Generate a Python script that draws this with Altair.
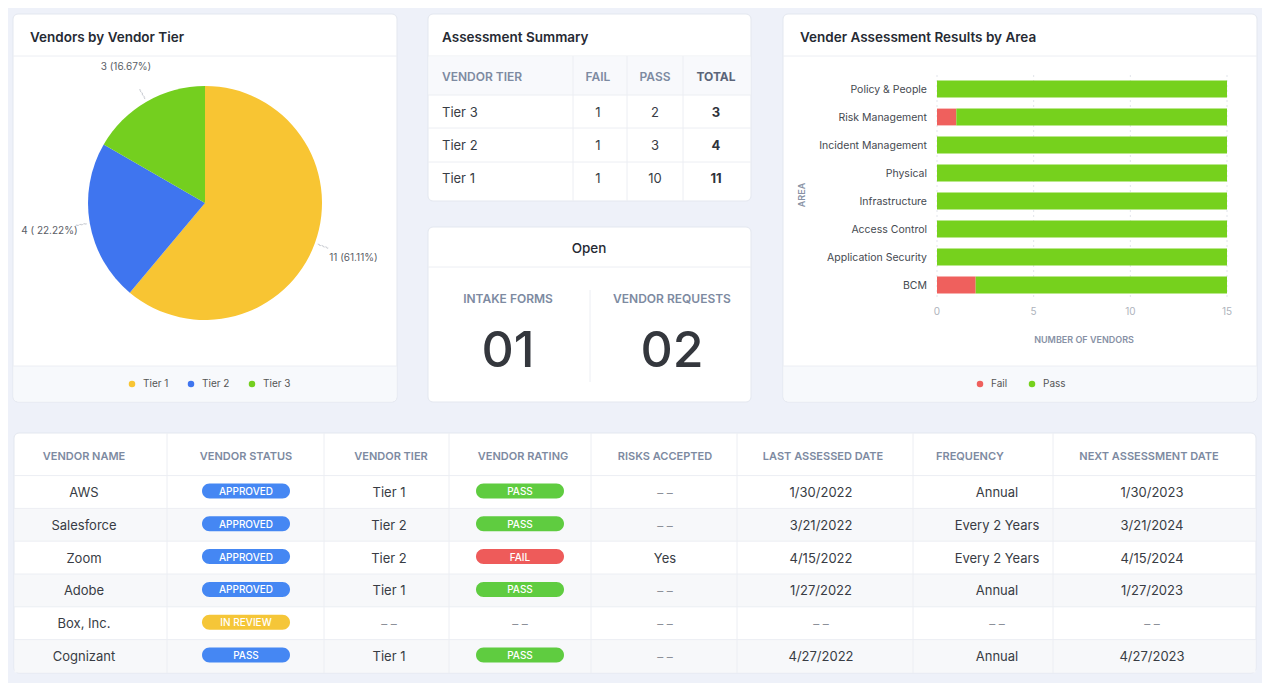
import math
import altair as alt
import pandas as pd

# ---------------- chart data ----------------
pie_tiers = ["Tier 1", "Tier 2", "Tier 3"]
pie_counts = [11, 4, 3]
pie_labels = ["11 (61.11%)", "4 ( 22.22%)", "3 (16.67%)"]

summary_headers = ["VENDOR TIER", "FAIL", "PASS", "TOTAL"]
summary_tiers = ["Tier 3", "Tier 2", "Tier 1"]
summary_fail = [1, 1, 1]
summary_pass = [2, 3, 10]
summary_total = [3, 4, 11]

open_labels = ["INTAKE FORMS", "VENDOR REQUESTS"]
open_counts = [1, 2]

areas = ["Policy & People", "Risk Management", "Incident Management", "Physical",
         "Infrastructure", "Access Control", "Application Security", "BCM"]
area_fail = [0, 1, 0, 0, 0, 0, 0, 2]
area_pass = [15, 14, 15, 15, 15, 15, 15, 13]
area_ticks = [0, 5, 10, 15]
outcomes = ["Fail", "Pass"]

DASH = "– –"
table_headers = ["VENDOR NAME", "VENDOR STATUS", "VENDOR TIER", "VENDOR RATING",
                 "RISKS ACCEPTED", "LAST ASSESSED DATE", "FREQUENCY", "NEXT ASSESSMENT DATE"]
vendor_names = ["AWS", "Salesforce", "Zoom", "Adobe", "Box, Inc.", "Cognizant"]
vendor_status = ["APPROVED", "APPROVED", "APPROVED", "APPROVED", "IN REVIEW", "PASS"]
vendor_tier = ["Tier 1", "Tier 2", "Tier 2", "Tier 1", DASH, "Tier 1"]
vendor_rating = ["PASS", "PASS", "FAIL", "PASS", DASH, "PASS"]
risks_accepted = [DASH, DASH, "Yes", DASH, DASH, DASH]
last_assessed = ["1/30/2022", "3/21/2022", "4/15/2022", "1/27/2022", DASH, "4/27/2022"]
frequency = ["Annual", "Every 2 Years", "Every 2 Years", "Annual", DASH, "Annual"]
next_assessment = ["1/30/2023", "3/21/2024", "4/15/2024", "1/27/2023", DASH, "4/27/2023"]

# ---------------- style ----------------
FONT = "Inter"
BG = "#eef1f9"
CARD = "#ffffff"
CARD_STROKE = "#e3e7ef"
LINE = "#eceef3"
FOOT = "#f7f9fc"
HEAD_FILL = "#f8f9fc"
TITLE = "#262a33"
HEAD_TXT = "#7d8aa1"
BODY_TXT = "#383c44"
MUTED = "#8c9099"
PIE_COLORS = ["#f8c533", "#3f75ef", "#74cf1f"]
BAR_COLORS = ["#ef605d", "#76d11d"]
PILL_TONES = ["status", "review", "pass", "fail"]
PILL_COLORS = ["#4587f3", "#f5c638", "#5fcc40", "#ee5b5a"]

# ---------------- layout (page pixels) ----------------
OX = OY = 8
W, H = 1254, 675


def px(v):
    return v - OX


def py(v):
    return v - OY


def vx(v):
    return alt.value(px(v))


def vy(v):
    return alt.value(py(v))


ONE = alt.Data(values=[{"k": 0}])


def box(x1, y1, x2, y2, **kw):
    return alt.Chart(ONE).mark_rect(**kw).encode(x=vx(x1), x2=vx(x2), y=vy(y1), y2=vy(y2))


def hrule(x1, x2, y, color=LINE):
    return alt.Chart(ONE).mark_rule(color=color, strokeWidth=1).encode(x=vx(x1), x2=vx(x2), y=vy(y))


def vrule(x, y1, y2, color=LINE):
    return alt.Chart(ONE).mark_rule(color=color, strokeWidth=1).encode(x=vx(x), y=vy(y1), y2=vy(y2))


def caption(x, y, text, **kw):
    props = dict(baseline="middle", align="left", fontSize=13.5, fontWeight=600, color=TITLE)
    props.update(kw)
    return alt.Chart(ONE).mark_text(text=text, **props).encode(x=vx(x), y=vy(y))


layers = []

# cards
CARDS = [(13, 14, 397, 402), (428, 14, 751, 201), (428, 227, 751, 402),
         (783, 14, 1257, 402), (14, 433, 1256, 673)]
for (x1, y1, x2, y2) in CARDS:
    layers.append(box(x1, y1, x2, y2, fill=CARD, stroke=CARD_STROKE, strokeWidth=1, cornerRadius=5))

# card headers / footers
for (x1, x2) in [(13, 397), (783, 1257)]:
    layers.append(box(x1 + 0.5, 366, x2 - 0.5, 401.5, fill=FOOT,
                      cornerRadiusBottomLeft=5, cornerRadiusBottomRight=5))
    layers.append(hrule(x1, x2, 366))
    layers.append(hrule(x1, x2, 56))
layers.append(hrule(428, 751, 56))
layers.append(hrule(428, 751, 267))

layers.append(caption(30, 37, "Vendors by Vendor Tier"))
layers.append(caption(442, 37, "Assessment Summary"))
layers.append(caption(800, 37, "Vender Assessment Results by Area"))
layers.append(caption(589, 248, "Open", align="center", fontWeight=500))

# ---------------- pie ----------------
PIE_CX, PIE_CY, PIE_R = 205, 203, 117
pie_df = pd.DataFrame({"tier": pie_tiers, "count": pie_counts, "label": pie_labels,
                       "order": list(range(len(pie_tiers)))})
total = sum(pie_counts)
cum = pie_df["count"].cumsum()
pie_df["mid"] = (cum - pie_df["count"] / 2) / total * 2 * math.pi
pie_df["mid2"] = pie_df["mid"] + 0.004

pie_arc = alt.Chart(pie_df).mark_arc(outerRadius=PIE_R).encode(
    theta=alt.Theta("count:Q", stack=True),
    order=alt.Order("order:Q"),
    color=alt.Color("tier:N", scale=alt.Scale(domain=pie_tiers, range=PIE_COLORS),
                    legend=alt.Legend(orient="none", legendX=px(127), legendY=py(379),
                                      direction="horizontal", title=None, symbolType="circle",
                                      symbolSize=42, symbolStrokeWidth=0, labelFontSize=10,
                                      labelColor="#555", columnPadding=17, labelOffset=6)),
    x=vx(PIE_CX), y=vy(PIE_CY),
)
pie_txt = alt.Chart(pie_df).mark_text(radius=158, fontSize=10, color="#5a5e66", baseline="middle").encode(
    theta=alt.Theta("count:Q", stack=True),
    order=alt.Order("order:Q"),
    text="label:N",
    x=vx(PIE_CX), y=vy(PIE_CY),
)
layers.append(alt.layer(pie_arc, pie_txt))
pie_lead = alt.Chart(pie_df).mark_arc(radius=120, radius2=131, stroke="#c9ccd2", strokeWidth=1,
                                      strokeDash=[2, 2], fillOpacity=0).encode(
    theta=alt.Theta("mid:Q", scale=None), theta2="mid2:Q",
    x=vx(PIE_CX), y=vy(PIE_CY),
)
layers.append(pie_lead)

# ---------------- assessment summary table ----------------
layers.append(box(428.5, 56.5, 750.5, 95, fill=HEAD_FILL))
for yy in [95, 128, 162]:
    layers.append(hrule(428, 751, yy))
for xx in [573, 627, 683]:
    layers.append(vrule(xx, 56, 201))

sum_x = alt.Scale(domain=[1, 2, 3], range=[px(598), px(655), px(716)], zero=False, nice=False)
sum_y = alt.Scale(domain=[0, 1, 2, 3], range=[py(76), py(112), py(145), py(178)], zero=False, nice=False)

sh = pd.DataFrame({"c": list(range(4)), "r": 0, "text": summary_headers})
sb = pd.DataFrame({"r": [1, 2, 3], "tier": summary_tiers, "fail": summary_fail,
                   "pass": summary_pass, "total": summary_total})
sb_mid = pd.concat([
    pd.DataFrame({"r": sb["r"], "c": 1, "v": sb["fail"]}),
    pd.DataFrame({"r": sb["r"], "c": 2, "v": sb["pass"]}),
])
sb_tot = pd.DataFrame({"r": sb["r"], "c": 3, "v": sb["total"]})

head_kw = dict(baseline="middle", fontSize=12, fontWeight=600, color=HEAD_TXT)
layers.append(alt.Chart(sh[sh.c == 0]).mark_text(align="left", **head_kw).encode(
    x=vx(442), y=alt.Y("r:Q", scale=sum_y, axis=None), text="text:N"))
layers.append(alt.Chart(sh[sh.c.isin([1, 2])]).mark_text(align="center", **head_kw).encode(
    x=alt.X("c:Q", scale=sum_x, axis=None), y=alt.Y("r:Q", scale=sum_y, axis=None), text="text:N"))
layers.append(alt.Chart(sh[sh.c == 3]).mark_text(align="center", baseline="middle", fontSize=12,
                                                   fontWeight=700, color="#5b6579").encode(
    x=alt.X("c:Q", scale=sum_x, axis=None), y=alt.Y("r:Q", scale=sum_y, axis=None), text="text:N"))
layers.append(alt.Chart(sb).mark_text(align="left", baseline="middle", fontSize=13, color=BODY_TXT).encode(
    x=vx(442), y=alt.Y("r:Q", scale=sum_y, axis=None), text="tier:N"))
layers.append(alt.Chart(sb_mid).mark_text(align="center", baseline="middle", fontSize=13, color=BODY_TXT).encode(
    x=alt.X("c:Q", scale=sum_x, axis=None), y=alt.Y("r:Q", scale=sum_y, axis=None), text="v:Q"))
layers.append(alt.Chart(sb_tot).mark_text(align="center", baseline="middle", fontSize=13, fontWeight=700,
                                          color="#2f333b").encode(
    x=alt.X("c:Q", scale=sum_x, axis=None), y=alt.Y("r:Q", scale=sum_y, axis=None), text="v:Q"))

# ---------------- open card ----------------
layers.append(vrule(590, 290, 382))
od = pd.DataFrame({"c": [0, 1], "label": open_labels, "n": open_counts})
open_x = alt.Scale(domain=[0, 1], range=[px(508), px(672)], zero=False, nice=False)
layers.append(alt.Chart(od).mark_text(baseline="middle", fontSize=12, fontWeight=600, color=HEAD_TXT).encode(
    x=alt.X("c:Q", scale=open_x, axis=None), y=vy(298), text="label:N"))
layers.append(alt.Chart(od).mark_text(baseline="middle", fontSize=50, fontWeight=500, color="#34373d").encode(
    x=alt.X("c:Q", scale=open_x, axis=None), y=vy(351), text=alt.Text("n:Q", format="02d")))

# ---------------- bar chart ----------------
bar_rows = []
for a, f, p in zip(areas, area_fail, area_pass):
    bar_rows.append({"area": a, "outcome": "Fail", "count": f, "order": 0})
    bar_rows.append({"area": a, "outcome": "Pass", "count": p, "order": 1})
bar_df = pd.DataFrame(bar_rows)
tick_df = pd.DataFrame({"t": area_ticks})

bx = alt.Scale(domain=[0, 15], range=[px(937), px(1227)], nice=False, zero=False)
by = alt.Scale(domain=areas, range=[py(75), py(299)], paddingInner=0.4, paddingOuter=0.2)

grid = alt.Chart(tick_df).mark_rule(color="#e2e5eb", strokeWidth=1, strokeDash=[2, 3]).encode(
    x=alt.X("t:Q", scale=bx, axis=None), y=vy(75), y2=vy(299))
bars = alt.Chart(bar_df).mark_bar().encode(
    x=alt.X("count:Q", stack="zero", scale=bx, axis=None),
    y=alt.Y("area:N", scale=by, sort=areas, axis=None),
    color=alt.Color("outcome:N", scale=alt.Scale(domain=outcomes, range=BAR_COLORS),
                    legend=alt.Legend(orient="none", legendX=px(975), legendY=py(379),
                                      direction="horizontal", title=None, symbolType="circle",
                                      symbolSize=42, symbolStrokeWidth=0, labelFontSize=10,
                                      labelColor="#555", columnPadding=19, labelOffset=6)),
    order=alt.Order("order:Q"),
)
area_lbl = alt.Chart(pd.DataFrame({"area": areas})).mark_text(
    align="right", baseline="middle", fontSize=10.5, color="#454950").encode(
    y=alt.Y("area:N", scale=by, sort=areas, axis=None), x=vx(927), text="area:N")
tick_lbl = alt.Chart(tick_df).mark_text(baseline="middle", fontSize=10, color="#aeb3bc").encode(
    x=alt.X("t:Q", scale=bx, axis=None), y=vy(311), text="t:Q")
layers.append(alt.layer(grid, bars, area_lbl, tick_lbl))
layers.append(caption(1084, 339, "NUMBER OF VENDORS", align="center", fontSize=9, fontWeight=600,
                      color="#8791a5"))
layers.append(caption(801, 195, "AREA", align="center", fontSize=9, fontWeight=600,
                      color="#8791a5", angle=270))

# ---------------- vendor table ----------------
columns = [vendor_names, vendor_status, vendor_tier, vendor_rating,
           risks_accepted, last_assessed, frequency, next_assessment]
cells = []
for r in range(len(vendor_names)):
    for c, col in enumerate(columns):
        t = col[r]
        if c == 1:
            kind, tone = "pill", ("review" if t == "IN REVIEW" else "status")
        elif c == 3 and t != DASH:
            kind, tone = "pill", ("fail" if t == "FAIL" else "pass")
        elif t == DASH:
            kind, tone = "dash", ""
        else:
            kind, tone = "plain", ""
        cells.append({"r": r, "c": c, "text": t, "kind": kind, "tone": tone})
cells = pd.DataFrame(cells)
rows_df = pd.DataFrame({"r": list(range(len(vendor_names)))})
hdr_df = pd.DataFrame({"c": list(range(len(table_headers))), "text": table_headers})

HDR_CENTERS = [84, 246, 391, 523, 665, 823, 970, 1149]
VAL_CENTERS = [84, 246, 389, 520, 665, 821, 997, 1152]
tx_h = alt.Scale(domain=list(range(8)), range=[px(v) for v in HDR_CENTERS], zero=False, nice=False)
tx_v = alt.Scale(domain=list(range(8)), range=[px(v) for v in VAL_CENTERS], zero=False, nice=False)
ty = alt.Scale(domain=[0, 5], range=[py(492), py(656)], zero=False, nice=False)

layers.append(alt.Chart(rows_df).transform_filter("datum.r % 2 == 1").transform_calculate(
    y0="datum.r - 0.5", y1="datum.r + 0.5").mark_rect(fill="#f7f8fa").encode(
    x=vx(14.5), x2=vx(1255.5), y=alt.Y("y0:Q", scale=ty, axis=None), y2="y1:Q"))
layers.append(alt.Chart(rows_df).transform_calculate(yl="datum.r - 0.5").mark_rule(
    color=LINE, strokeWidth=1).encode(
    x=vx(14), x2=vx(1256), y=alt.Y("yl:Q", scale=ty, axis=None)))
for xx in [167, 324, 449, 591, 737, 913, 1053]:
    layers.append(vrule(xx, 433, 673))

layers.append(alt.Chart(hdr_df).mark_text(baseline="middle", fontSize=11, fontWeight=600, color=HEAD_TXT).encode(
    x=alt.X("c:Q", scale=tx_h, axis=None), y=vy(456), text="text:N"))
layers.append(alt.Chart(cells[cells.kind == "plain"]).mark_text(
    baseline="middle", fontSize=13, color=BODY_TXT).encode(
    x=alt.X("c:Q", scale=tx_v, axis=None), y=alt.Y("r:Q", scale=ty, axis=None), text="text:N"))
layers.append(alt.Chart(cells[cells.kind == "dash"]).mark_text(
    baseline="middle", fontSize=12, color=MUTED).encode(
    x=alt.X("c:Q", scale=tx_v, axis=None), y=alt.Y("r:Q", scale=ty, axis=None), text="text:N"))

hr = 7.5 / 44.0
PILL = (f"M {-1 + hr:.4f} {-hr:.4f} L {1 - hr:.4f} {-hr:.4f} "
        f"A {hr:.4f} {hr:.4f} 0 0 1 {1 - hr:.4f} {hr:.4f} "
        f"L {-1 + hr:.4f} {hr:.4f} A {hr:.4f} {hr:.4f} 0 0 1 {-1 + hr:.4f} {-hr:.4f} Z")
pills = cells[cells.kind == "pill"]
layers.append(alt.Chart(pills).mark_point(shape=PILL, size=88 * 88, filled=True, opacity=1,
                                          strokeWidth=0, yOffset=-1).encode(
    x=alt.X("c:Q", scale=tx_v, axis=None), y=alt.Y("r:Q", scale=ty, axis=None),
    color=alt.Color("tone:N", scale=alt.Scale(domain=PILL_TONES, range=PILL_COLORS), legend=None)))
layers.append(alt.Chart(pills).mark_text(baseline="middle", fontSize=10, fontWeight=500, color="white",
                                         yOffset=-1).encode(
    x=alt.X("c:Q", scale=tx_v, axis=None), y=alt.Y("r:Q", scale=ty, axis=None), text="text:N"))

chart = alt.layer(*layers).resolve_scale(
    x="independent", y="independent", color="independent", theta="independent"
).resolve_legend(color="independent").properties(
    width=W, height=H, autosize=alt.AutoSizeParams(type="none"), padding=0, background=BG
).configure(font=FONT).configure_view(strokeWidth=0).configure_text(dy=1)

chart.save("out.html", embed_options={"renderer": "svg", "actions": False})
